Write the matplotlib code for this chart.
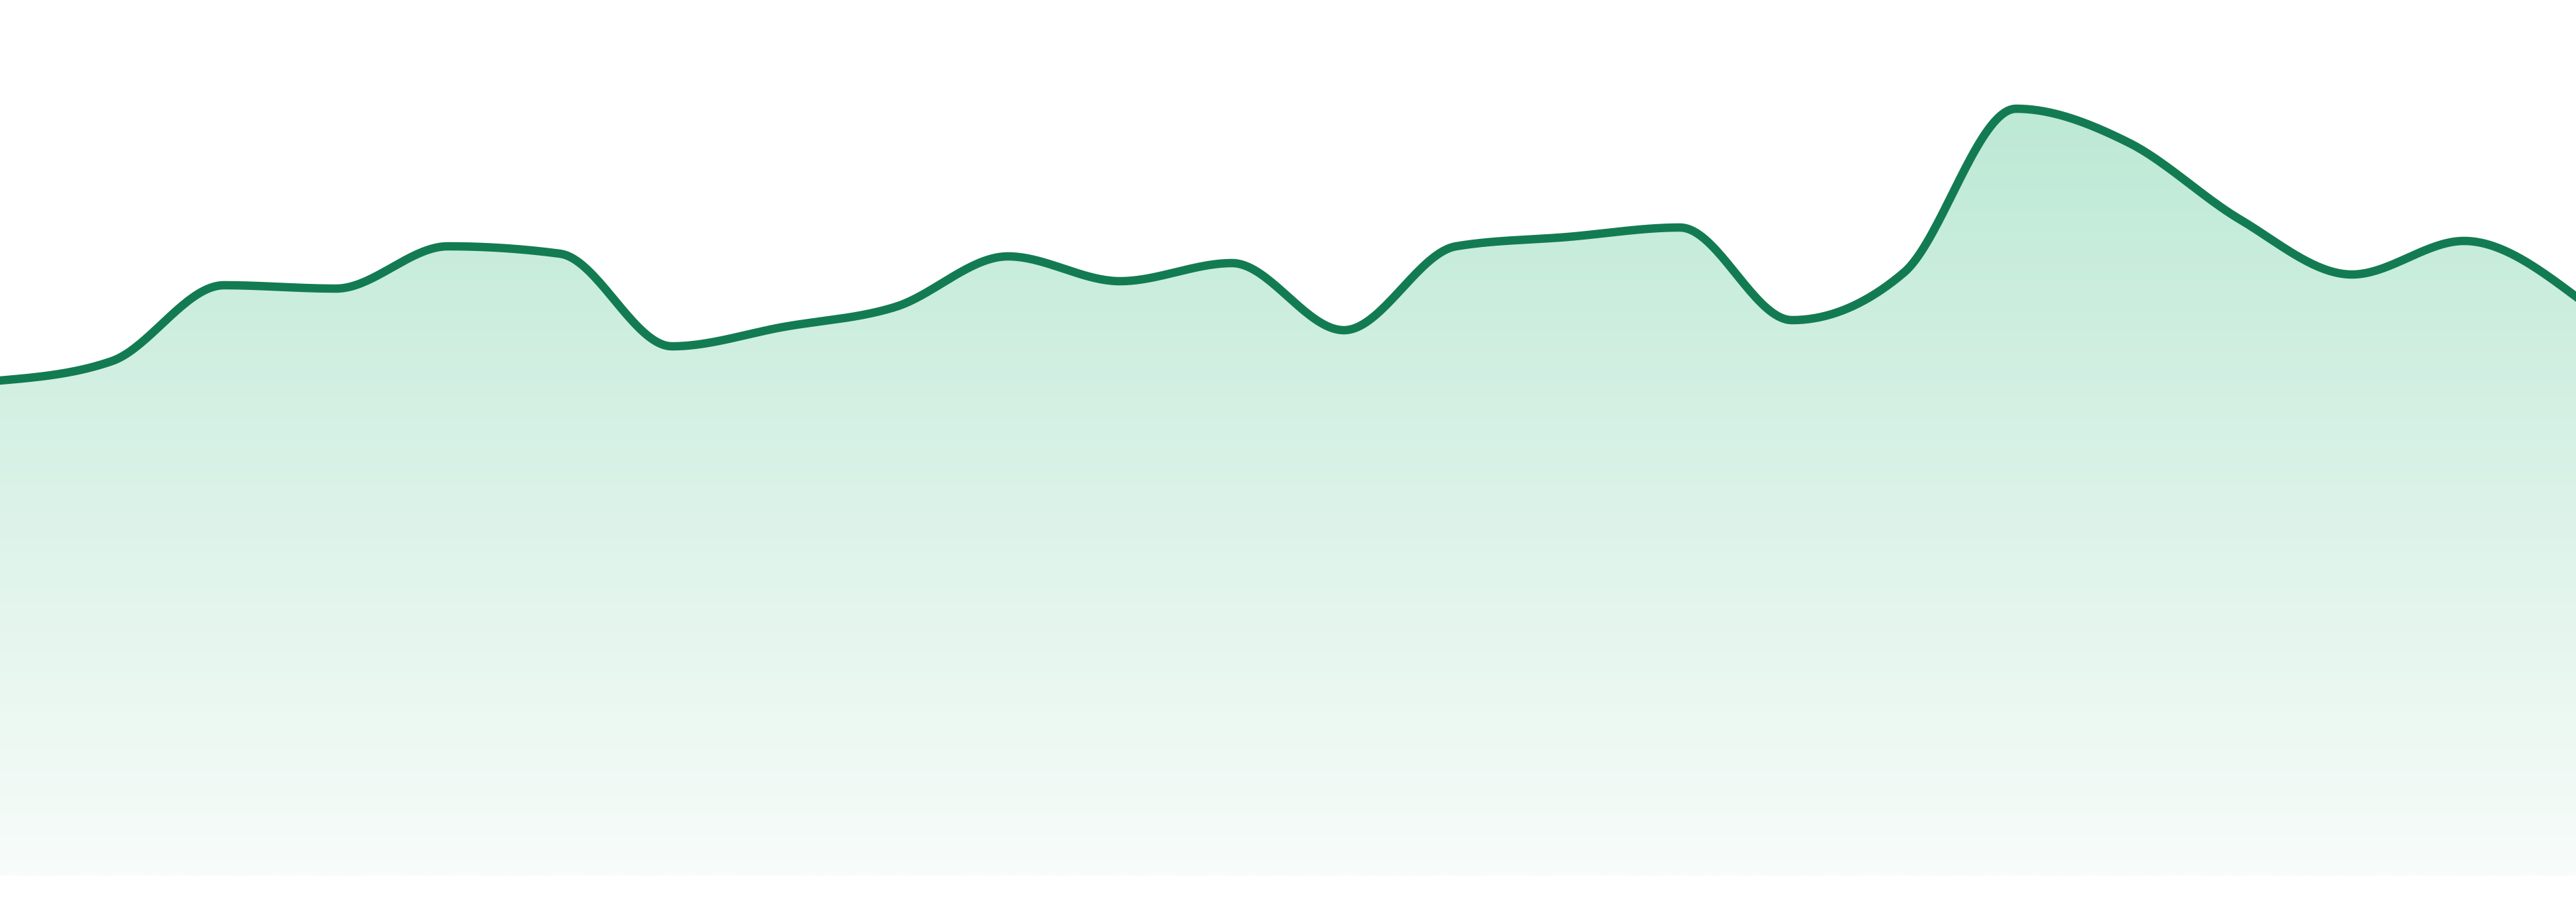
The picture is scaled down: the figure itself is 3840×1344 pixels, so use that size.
import numpy as np
import matplotlib
matplotlib.use("Agg")
import matplotlib.pyplot as plt
from matplotlib.colors import LinearSegmentedColormap

# Data (arbitrary units)
points = list(range(24))
values = [73.8, 76.7, 88.0, 87.5, 93.8, 92.7, 78.9, 81.8, 84.8, 92.3, 88.6, 91.3,
          81.3, 93.8, 95.2, 96.6, 82.8, 89.9, 114.3, 109.3, 97.8, 89.6, 94.6, 86.3]

LINE_COLOR = "#137B52"
FILL_TOP = "#BDE9D5"
FILL_BOTTOM = "#F8FCFA"


def monotone_x(x, y, n=40):
    # same idea as d3.curveMonotoneX: hermite segments with Fritsch-Carlson style slopes
    x = np.asarray(x, dtype=float)
    y = np.asarray(y, dtype=float)
    h = np.diff(x)
    s = np.diff(y) / h
    m = np.zeros_like(y)
    for i in range(1, len(y) - 1):
        p = (s[i - 1] * h[i] + s[i] * h[i - 1]) / (h[i - 1] + h[i])
        m[i] = (np.sign(s[i - 1]) + np.sign(s[i])) * min(abs(s[i - 1]), abs(s[i]), 0.5 * abs(p))
    m[0] = (3 * s[0] - m[1]) / 2
    m[-1] = (3 * s[-1] - m[-2]) / 2

    xs, ys = [], []
    for i in range(len(y) - 1):
        t = np.linspace(0, 1, n, endpoint=(i == len(y) - 2))
        h00 = 2 * t**3 - 3 * t**2 + 1
        h10 = t**3 - 2 * t**2 + t
        h01 = -2 * t**3 + 3 * t**2
        h11 = t**3 - t**2
        xs.append(x[i] + t * h[i])
        ys.append(h00 * y[i] + h10 * h[i] * m[i] + h01 * y[i + 1] + h11 * h[i] * m[i + 1])
    return np.concatenate(xs), np.concatenate(ys)


fig = plt.figure(figsize=(38.4, 13.44), dpi=100)
ax = fig.add_axes([0, 39 / 1344, 1, 1305 / 1344])

cx, cy = monotone_x(points, values)

# gradient area under the curve
fill = ax.fill_between(cx, cy, 0, color="none", linewidth=0)
cmap = LinearSegmentedColormap.from_list("mint", [FILL_BOTTOM, FILL_TOP])
grad = np.linspace(0, 1, 512).reshape(-1, 1)
im = ax.imshow(grad, cmap=cmap, origin="lower", aspect="auto",
               extent=[points[0], points[-1], 0, max(values)], zorder=1)
im.set_clip_path(fill.get_paths()[0], transform=ax.transData)

ax.plot(cx, cy, color=LINE_COLOR, linewidth=9, solid_joinstyle="round", zorder=2)

ax.set_xlim(points[0], points[-1])
ax.set_ylim(0, 130.5)
ax.axis("off")

fig.savefig("out.png", dpi=100, facecolor="white")
